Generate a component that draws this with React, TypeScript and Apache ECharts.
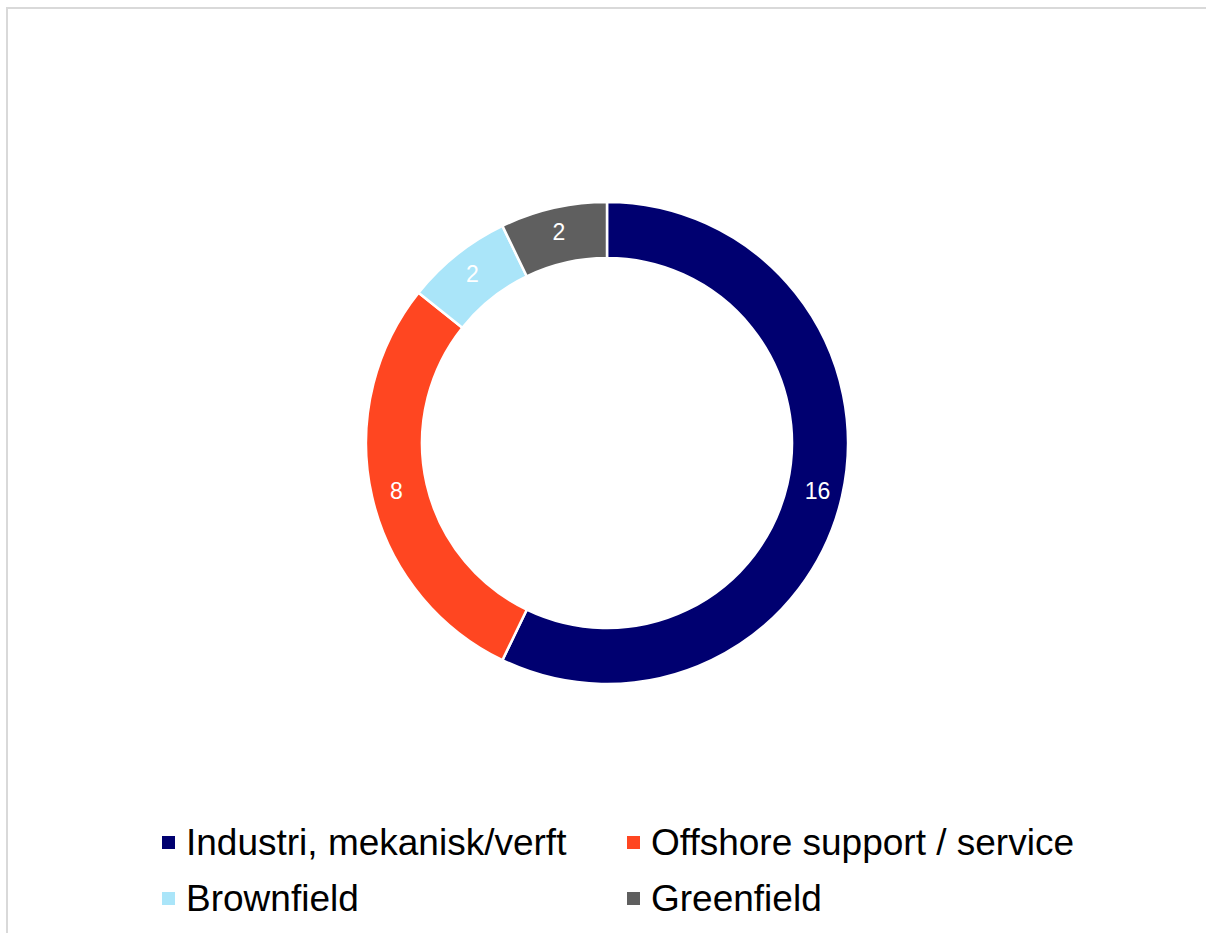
import React, { useEffect, useRef } from "react";
import * as echarts from "echarts";

const categories = ["Industri, mekanisk/verft", "Offshore support / service", "Brownfield", "Greenfield"];
const values = [16, 8, 2, 2];
const colors = ["#000070", "#FF4621", "#AAE5F9", "#5F5F5F"];
const legendLeft = [160, 625, 160, 625];
const legendTop = [824, 824, 880, 880];

export default function App() {
  const ref = useRef<HTMLDivElement>(null);
  useEffect(() => {
    if (!ref.current) return;
    const chart = echarts.init(ref.current, null, { renderer: "svg" });
    const font = "Liberation Sans, Arial, sans-serif";
    chart.setOption({
      animation: false,
      backgroundColor: "#ffffff",
      color: colors,
      graphic: [
        {
          type: "rect",
          shape: { x: 7, y: 8, width: 1220, height: 960 },
          style: { fill: "none", stroke: "#d9d9d9", lineWidth: 2 },
          silent: true,
        },
      ],
      legend: categories.map((c, i) => ({
        data: [c],
        left: legendLeft[i],
        top: legendTop[i],
        icon: "rect",
        itemWidth: 15,
        itemHeight: 15,
        padding: 0,
        textStyle: {
          fontSize: 37,
          color: "#000000",
          fontFamily: font,
          padding: [0, 0, 0, 5],
        },
      })),
      series: [
        {
          type: "pie",
          center: [607, 443],
          radius: [185, 241],
          startAngle: 90,
          clockwise: true,
          avoidLabelOverlap: false,
          itemStyle: { borderColor: "#ffffff", borderWidth: 2.5 },
          label: {
            show: true,
            position: "inside",
            color: "#ffffff",
            fontSize: 23,
            fontFamily: font,
            formatter: "{c}",
          },
          labelLine: { show: false },
          emphasis: { disabled: true },
          data: categories.map((c, i) => ({ name: c, value: values[i] })),
        },
      ],
    });
    return () => chart.dispose();
  }, []);
  return (
    <div
      ref={ref}
      style={{ position: "fixed", left: 0, top: 0, width: 1206, height: 933 }}
    />
  );
}
